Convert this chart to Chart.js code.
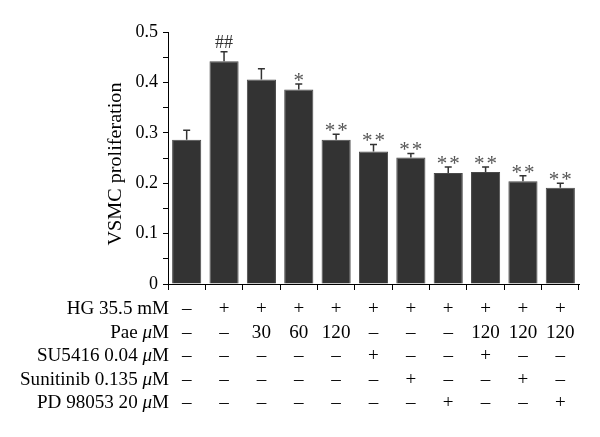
<!DOCTYPE html>
<html>
<head>
<meta charset="utf-8">
<script src="https://cdn.jsdelivr.net/npm/chart.js@4"></script>
<style>
  body { margin: 0; background: #fff; }
  #wrap { width: 600px; height: 437px; }
</style>
</head>
<body>
<div id="wrap"><canvas id="chart" width="600" height="437"></canvas></div>
<script>
// group values
const groups = ['1', '2', '3', '4', '5', '6', '7', '8', '9', '10', '11'];
const proliferation = [0.286, 0.442, 0.406, 0.386, 0.286, 0.263, 0.251, 0.220, 0.222, 0.204, 0.191];
const sem = [0.019, 0.019, 0.021, 0.011, 0.011, 0.014, 0.008, 0.012, 0.010, 0.011, 0.009];
const marks = ['', '##', '', '*', '**', '**', '**', '**', '**', '**', '**'];

// treatment table under the bars
const rowLabels = ['HG 35.5 mM', 'Pae μM', 'SU5416 0.04 μM', 'Sunitinib 0.135 μM', 'PD 98053 20 μM'];
const hgRow = ['–', '+', '+', '+', '+', '+', '+', '+', '+', '+', '+'];
const paeRow = ['–', '–', '30', '60', '120', '–', '–', '–', '120', '120', '120'];
const suRow = ['–', '–', '–', '–', '–', '+', '–', '–', '+', '–', '–'];
const sunRow = ['–', '–', '–', '–', '–', '–', '+', '–', '–', '+', '–'];
const pdRow = ['–', '–', '–', '–', '–', '–', '–', '+', '–', '–', '+'];
const tableRows = [hgRow, paeRow, suRow, sunRow, pdRow];

const serif = '"Liberation Serif", "Times New Roman", serif';
const WIDE = 1.06; // the original face is a little wider than Times

// draws label text with the μ in italics, right aligned at x
function drawLabel(ctx, text, x, y) {
  const parts = text.split('μ');
  ctx.save();
  ctx.translate(x, y);
  ctx.scale(WIDE, 1);
  ctx.textBaseline = 'middle';
  ctx.textAlign = 'left';
  const normal = '18px ' + serif;
  const ital = 'italic 18px ' + serif;
  let w = 0;
  parts.forEach((p, i) => {
    ctx.font = normal; w += ctx.measureText(p).width;
    if (i < parts.length - 1) { ctx.font = ital; w += ctx.measureText('μ').width; }
  });
  let cx = -w;
  parts.forEach((p, i) => {
    ctx.font = normal; ctx.fillText(p, cx, 0); cx += ctx.measureText(p).width;
    if (i < parts.length - 1) { ctx.font = ital; ctx.fillText('μ', cx, 0); cx += ctx.measureText('μ').width; }
  });
  ctx.restore();
}

const extras = {
  id: 'extras',
  afterDatasetsDraw(chart) {
    const ctx = chart.ctx;
    const xs = chart.scales.x, ys = chart.scales.y;
    const area = chart.chartArea;
    ctx.save();
    // error bars (upper only)
    ctx.strokeStyle = '#333';
    ctx.lineWidth = 1.5;
    proliferation.forEach((v, i) => {
      const x = xs.getPixelForValue(i);
      const y0 = ys.getPixelForValue(v);
      const y1 = ys.getPixelForValue(v + sem[i]);
      ctx.beginPath();
      ctx.moveTo(x, y0); ctx.lineTo(x, y1);
      ctx.moveTo(x - 3.5, y1); ctx.lineTo(x + 3.5, y1);
      ctx.stroke();
    });
    // significance marks
    proliferation.forEach((v, i) => {
      const m = marks[i];
      if (!m) return;
      const x = xs.getPixelForValue(i);
      const top = ys.getPixelForValue(v + sem[i]);
      ctx.textAlign = 'center';
      ctx.textBaseline = 'alphabetic';
      if (m[0] === '#') {
        ctx.fillStyle = '#333';
        ctx.font = '18px ' + serif;
        ctx.fillText(m, x, top - 4);
      } else {
        ctx.fillStyle = '#555';
        ctx.font = '21px ' + serif;
        const n = m.length;
        for (let k = 0; k < n; k++) {
          ctx.fillText('*', x + (k - (n - 1) / 2) * 12.5, top + 3);
        }
      }
    });
    // y title
    ctx.fillStyle = '#000';
    ctx.font = '18px ' + serif;
    ctx.translate(116, (area.top + area.bottom) / 2 + 6);
    ctx.rotate(-Math.PI / 2);
    ctx.scale(1.12, 1);
    ctx.textAlign = 'center';
    ctx.textBaseline = 'middle';
    ctx.fillText('VSMC proliferation', 0, 0);
    ctx.setTransform(1, 0, 0, 1, 0, 0);
    // treatment table
    const rowY = [309, 333, 356, 380, 403];
    tableRows.forEach((row, r) => {
      ctx.fillStyle = '#000';
      drawLabel(ctx, rowLabels[r], area.left + 1, rowY[r]);
      row.forEach((cell, i) => {
        ctx.save();
        ctx.translate(xs.getPixelForValue(i), rowY[r]);
        ctx.scale(WIDE, 1);
        ctx.font = '18px ' + serif;
        ctx.textAlign = 'center';
        ctx.textBaseline = 'middle';
        ctx.fillText(cell, 0, 0);
        ctx.restore();
      });
    });
    ctx.restore();
  }
};

new Chart(document.getElementById('chart'), {
  type: 'bar',
  data: {
    labels: groups,
    datasets: [{
      data: proliferation,
      backgroundColor: '#333333',
      borderColor: '#4a4a4a',
      borderWidth: 1,
      barPercentage: 0.78,
      categoryPercentage: 1.0
    }]
  },
  options: {
    responsive: false,
    animation: false,
    layout: { padding: { left: 0, right: 21, top: 32, bottom: 0 } },
    plugins: { legend: { display: false }, tooltip: { enabled: false } },
    scales: {
      x: {
        grid: { display: true, drawOnChartArea: false, drawTicks: true, tickLength: 6, color: '#000', offset: true },
        border: { display: true, color: '#000', width: 1 },
        ticks: { display: false },
        afterFit(s) { s.height = 437 - 284 - 0; }
      },
      y: {
        min: 0, max: 0.5,
        grid: { display: true, drawOnChartArea: false, drawTicks: true, tickLength: 5, color: '#000' },
        border: { display: true, color: '#000', width: 1 },
        ticks: {
          stepSize: 0.05,
          color: '#000',
          padding: 5,
          font: { family: serif, size: 18 },
          callback: v => {
            const k = Math.round(v * 100);
            if (k % 10 !== 0) return '';
            return k === 0 ? '0' : (k / 100).toFixed(1);
          }
        },
        afterFit(s) { s.width = 168; }
      }
    }
  },
  plugins: [extras]
});
</script>
</body>
</html>
